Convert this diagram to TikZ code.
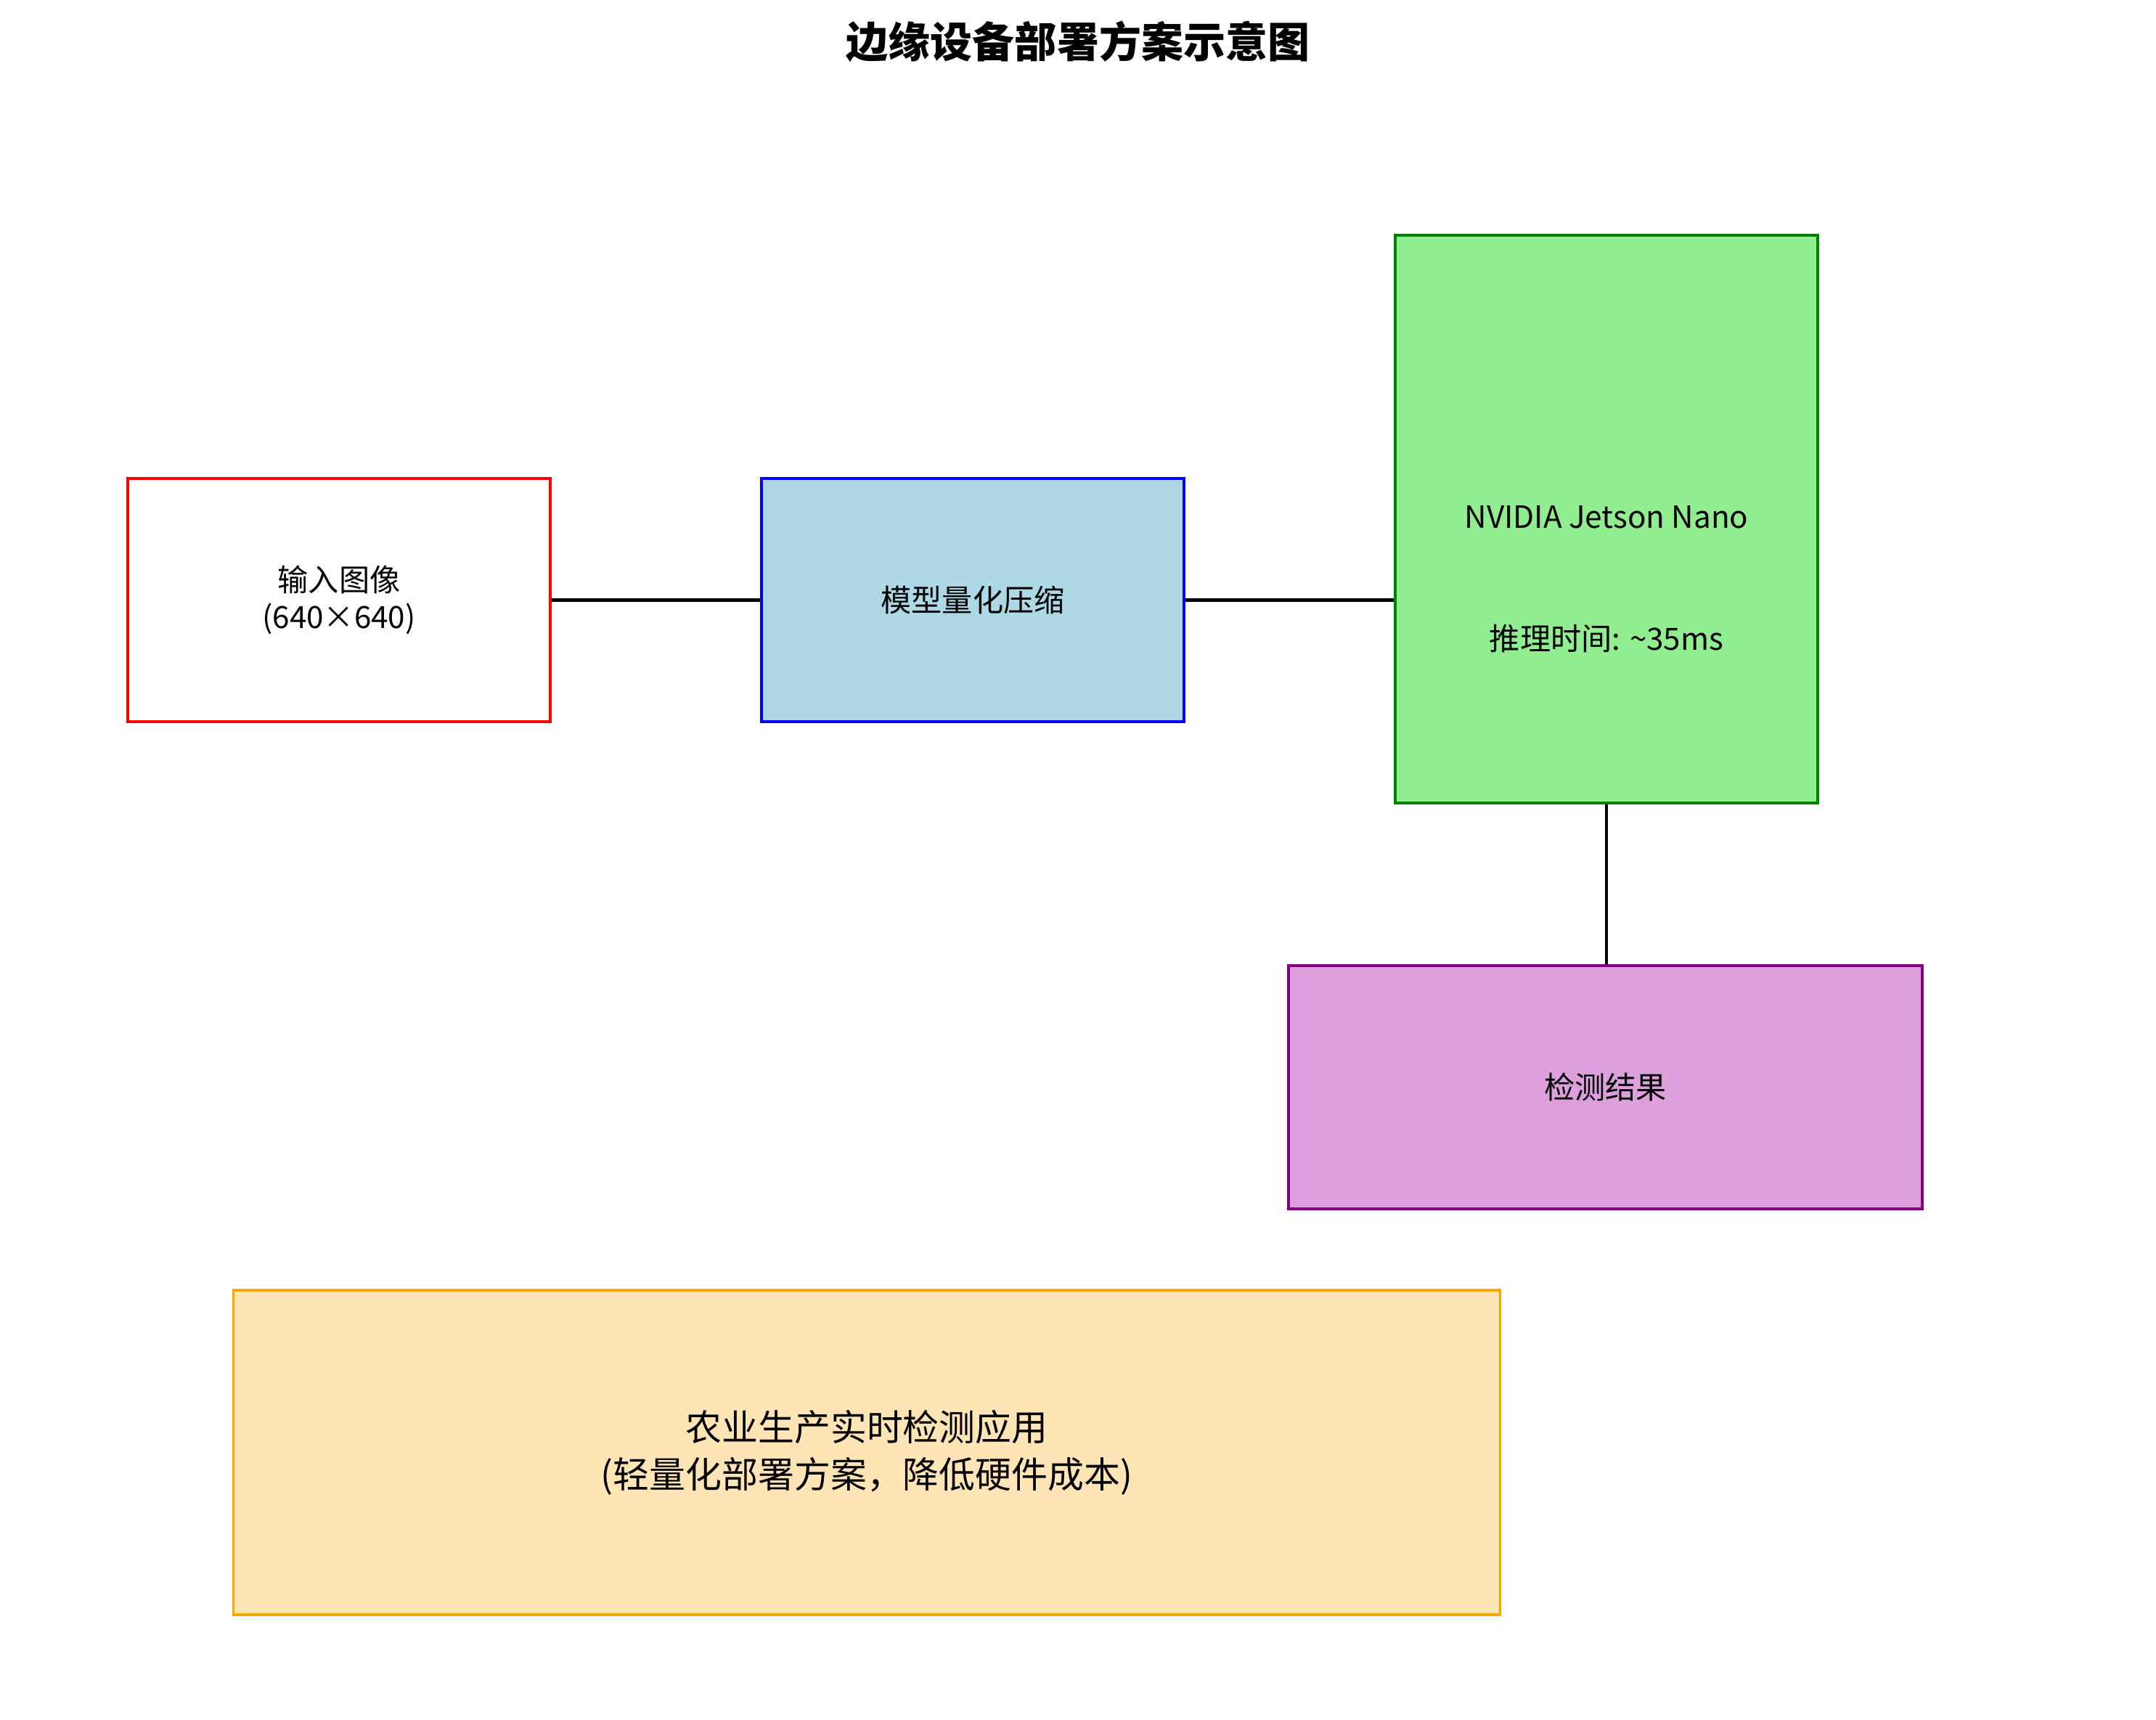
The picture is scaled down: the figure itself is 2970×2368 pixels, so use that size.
\documentclass[tikz,border=0pt]{standalone}
\usepackage{fontspec}
\setmainfont{Noto Sans CJK SC}
\definecolor{lblue}{HTML}{ADD8E6}
\definecolor{lgreen}{HTML}{90EE90}
\definecolor{dgreen}{HTML}{008000}
\definecolor{purp}{HTML}{800080}
\definecolor{plum}{HTML}{DDA0DD}
\definecolor{orng}{HTML}{FFA500}
\definecolor{mocc}{HTML}{FFE4B5}
\begin{document}
\begin{tikzpicture}[x=0.01cm,y=-0.01cm,
  box/.style={draw,line width=1.1pt,inner sep=0pt,align=center,font=\fontsize{12}{14.5}\selectfont},
  conn/.style={draw,line width=1.4pt,black}]
\useasboundingbox (0,0) rectangle (2970,2368);
\node[font=\bfseries\fontsize{16.5}{20}\selectfont] (title) at (1485,57) {边缘设备部署方案示意图};
\node[box,draw=red,fill=white,minimum width=5.82cm,minimum height=3.35cm] (inp) at (467,826.5) {输入图像\\(640×640)};
\node[box,draw=blue,fill=lblue,minimum width=5.82cm,minimum height=3.35cm] (mdl) at (1340,826.5) {模型量化压缩};
\node[box,draw=dgreen,fill=lgreen,minimum width=5.82cm,minimum height=7.82cm] (jet) at (2213,715) {};
\node[font=\fontsize{12}{14.5}\selectfont] (jet1) at (2213,712) {NVIDIA Jetson Nano};
\node[font=\fontsize{12}{14.5}\selectfont] (jet2) at (2213,879) {推理时间: \textasciitilde35ms};
\node[box,draw=purp,fill=plum,minimum width=8.73cm,minimum height=3.35cm] (res) at (2211.5,1497.5) {检测结果};
\node[box,draw=orng,fill=mocc,minimum width=17.44cm,minimum height=4.47cm,font=\fontsize{14.2}{18.3}\selectfont] (app) at (1194,2000.5) {农业生产实时检测应用\\(轻量化部署方案，降低硬件成本)};
\draw[conn] (inp.east) -- (mdl.west);
\draw[conn] (mdl.east) -- (mdl.east -| jet.west);
\draw[conn] (jet.south) -- (jet.south |- res.north);
\end{tikzpicture}
\end{document}
